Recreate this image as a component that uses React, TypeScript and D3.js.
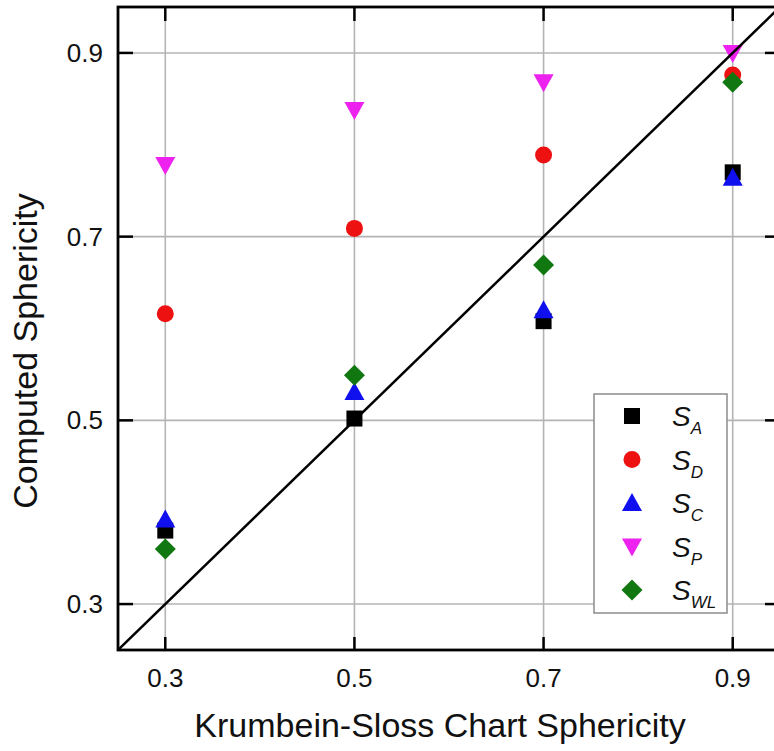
import React from "react";
import * as d3 from "d3";

const xCategories = [0.3, 0.5, 0.7, 0.9];
const sA = [0.38, 0.502, 0.608, 0.77];
const sD = [0.616, 0.709, 0.789, 0.876];
const sC = [0.392, 0.531, 0.62, 0.764];
const sP = [0.778, 0.838, 0.868, 0.9];
const sWL = [0.36, 0.549, 0.669, 0.868];
const tickValues = [0.3, 0.5, 0.7, 0.9];
const domain: [number, number] = [0.25, 0.95];

const seriesNames = [
  { main: "S", sub: "A" },
  { main: "S", sub: "D" },
  { main: "S", sub: "C" },
  { main: "S", sub: "P" },
  { main: "S", sub: "WL" },
];
const seriesValues = [sA, sD, sC, sP, sWL];
const colors = ["#000000", "#ee1111", "#1010ee", "#ee22ee", "#117711"];
const shapes = ["square", "circle", "triangle", "triangleDown", "diamond"];

const W = 774;
const H = 751;
const L = 118, R = 780, T = 7, B = 650;

function Marker({ shape, x, y, color }: { shape: string; x: number; y: number; color: string }) {
  if (shape === "square") return <rect x={x - 8} y={y - 8} width={16} height={16} fill={color} />;
  if (shape === "circle") return <circle cx={x} cy={y} r={8.5} fill={color} />;
  if (shape === "triangle")
    return <path d={`M${x},${y - 10}L${x + 10},${y + 8}L${x - 10},${y + 8}Z`} fill={color} />;
  if (shape === "triangleDown")
    return <path d={`M${x},${y + 10}L${x + 10},${y - 8}L${x - 10},${y - 8}Z`} fill={color} />;
  return <path d={`M${x},${y - 10.5}L${x + 10.5},${y}L${x},${y + 10.5}L${x - 10.5},${y}Z`} fill={color} />;
}

export default function App() {
  const x = d3.scaleLinear().domain(domain).range([L, R]);
  const y = d3.scaleLinear().domain(domain).range([B, T]);
  const font = "'Liberation Sans', Arial, sans-serif";
  const line = d3.line<number>().x((d) => x(d)).y((d) => y(d));

  const legX = 594, legY = 394, legW = 133, legH = 219;
  const legRow = 43.5;

  return (
    <svg width={W} height={H} style={{ position: "absolute", left: 0, top: 0, background: "#fff" }} fontFamily={font}>
      <defs>
        <clipPath id="plot">
          <rect x={L} y={T} width={R - L} height={B - T} />
        </clipPath>
      </defs>
      {tickValues.map((t) => (
        <g key={"g" + t}>
          <line x1={x(t)} x2={x(t)} y1={T} y2={B} stroke="#b4b4b4" strokeWidth={1.6} />
          <line x1={L} x2={R} y1={y(t)} y2={y(t)} stroke="#b4b4b4" strokeWidth={1.6} />
        </g>
      ))}
      <g clipPath="url(#plot)">
        {seriesValues.map((vals, si) =>
          vals.map((v, i) => (
            <Marker key={si + "-" + i} shape={shapes[si]} x={x(xCategories[i])} y={y(v)} color={colors[si]} />
          ))
        )}
        <path d={line(domain) || ""} stroke="#000" strokeWidth={2.5} fill="none" />
      </g>
      <rect x={legX} y={legY} width={legW} height={legH} fill="#fff" stroke="#8c8c8c" strokeWidth={1.5} />
      {seriesNames.map((s, i) => {
        const cy = legY + 22 + i * legRow;
        return (
          <g key={"l" + i}>
            <Marker shape={shapes[i]} x={legX + 38} y={cy} color={colors[i]} />
            <text x={legX + 78} y={cy + 10} fontSize={28} fontStyle="italic" fill="#111">
              {s.main}
              <tspan fontSize={17} dy={8}>{s.sub}</tspan>
            </text>
          </g>
        );
      })}
      <rect x={L} y={T} width={R - L} height={B - T} fill="none" stroke="#000" strokeWidth={2.8} />
      {tickValues.map((t) => (
        <g key={"t" + t} stroke="#000" strokeWidth={2.5}>
          <line x1={x(t)} x2={x(t)} y1={B} y2={B - 13} />
          <line x1={x(t)} x2={x(t)} y1={T} y2={T + 14} />
          <line x1={L} x2={L + 15} y1={y(t)} y2={y(t)} />
          <line x1={R} x2={R - 15} y1={y(t)} y2={y(t)} />
        </g>
      ))}
      {tickValues.map((t) => (
        <g key={"tl" + t}>
          <text x={x(t)} y={687} fontSize={26} textAnchor="middle" fill="#111">{t.toFixed(1)}</text>
          <text x={103} y={y(t) + 9} fontSize={26} textAnchor="end" fill="#111">{t.toFixed(1)}</text>
        </g>
      ))}
      <text x={440} y={737} fontSize={34} textAnchor="middle" fill="#111">Krumbein-Sloss Chart Sphericity</text>
      <text transform={`translate(37,351) rotate(-90)`} fontSize={34} textAnchor="middle" fill="#111">Computed Sphericity</text>
    </svg>
  );
}
